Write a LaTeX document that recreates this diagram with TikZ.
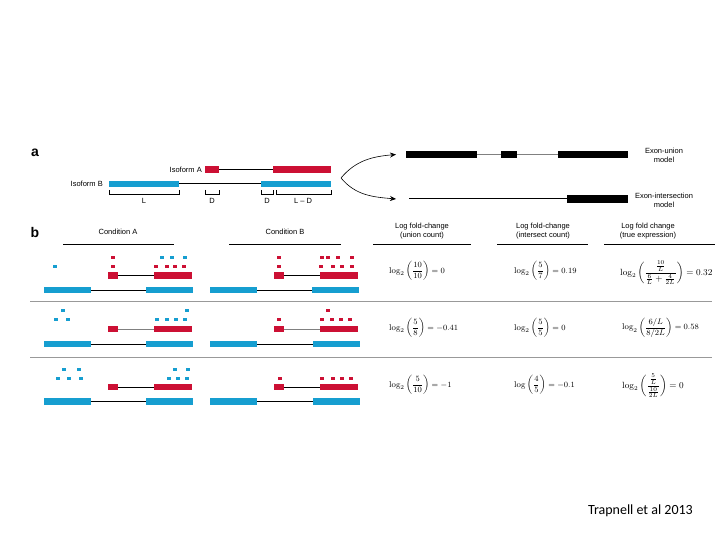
\documentclass[tikz,border=0pt]{standalone}
\usepackage{amsmath}
\usepackage{fontspec}
\setsansfont{Liberation Sans}
\newfontfamily\credfont{Carlito}
\usetikzlibrary{arrows.meta,positioning}
\definecolor{isored}{RGB}{204,16,52}
\definecolor{isoblue}{RGB}{22,158,208}

\begin{document}
\begin{tikzpicture}[
  x=1pt, y=-1pt,
  exon/.style={inner sep=0pt, outer sep=0pt, minimum height=6.5pt, anchor=west},
  redexon/.style={exon, fill=isored},
  blueexon/.style={exon, fill=isoblue},
  modelexon/.style={exon, fill=black, minimum height=7.5pt},
  intron/.style={line width=1pt},
  lbl/.style={font=\sffamily\fontsize{7.5}{9}\selectfont, inner sep=1pt, align=center},
  panel/.style={font=\sffamily\bfseries\fontsize{14}{14}\selectfont, inner sep=0pt},
  fml/.style={font=\fontsize{8.5}{10}\selectfont, anchor=west, inner sep=0pt},
  bracket/.style={line width=0.8pt},
  flow/.style={line width=0.6pt, -{Stealth[length=6pt,width=5pt]}}
]
\useasboundingbox (0,0) rectangle (720,540);

% panel a
\node[panel] (pa) at (35,153) {a};

\node[lbl, anchor=east] (isoA) at (203,169.5) {Isoform A};
\node[redexon, minimum width=14pt] (A1) at (205,169.5) {};
\node[redexon, minimum width=58pt] (A2) at (273,169.5) {};
\draw[intron] (A1) -- (A2);

\node[lbl, anchor=east] (isoB) at (104,184) {Isoform B};
\node[blueexon, minimum width=70pt] (B1) at (109,184) {};
\node[blueexon, minimum width=70pt] (B2) at (261,184) {};
\draw[intron] (B1) -- (B2);

\draw[bracket] (109,190) -- (109,194.5) -- (179,194.5) -- (179,190);
\draw[bracket] (205,190) -- (205,194.5) -- (219,194.5) -- (219,190);
\draw[bracket] (261,190) -- (261,194.5) -- (273,194.5) -- (273,190);
\draw[bracket] (276,190) -- (276,194.5) -- (331,194.5) -- (331,190);
\node[lbl] (lenL) at (144,201) {L};
\node[lbl] (lenD1) at (212,201) {D};
\node[lbl] (lenD2) at (267,201) {D};
\node[lbl] (lenLD) at (303,201) {L -- D};

\coordinate (split) at (341,178);

\node[modelexon, minimum width=71pt] (U1) at (406,154.5) {};
\node[modelexon, minimum width=16pt] (U2) at (501,154.5) {};
\node[modelexon, minimum width=70pt] (U3) at (558,154.5) {};
\draw[gray, line width=0.6pt] (U1) -- (U2);
\draw[gray, line width=0.6pt] (U2) -- (U3);

\coordinate (I0) at (409,199);
\node[modelexon, minimum width=61pt] (I1) at (567,199) {};
\draw[intron] (I0) -- (I1);

\draw[flow] (split) to[out=50,in=185] ([xshift=-10pt]U1.west);
\draw[flow] (split) to[out=-50,in=175] ([xshift=-10pt]U1.west |- I1.west);

\node[lbl] (unionlbl) at (664,155) {Exon-union\\model};
\node[lbl] (interlbl) at (664,200) {Exon-intersection\\model};

% panel b
\node[panel] (pb) at (35,232) {b};

\node[lbl] (condA) at (118,232) {Condition A};
\node[lbl] (condB) at (285,232) {Condition B};
\draw[line width=0.8pt] (63,244) -- (174,244);
\draw[line width=0.8pt] (229,244) -- (341,244);

\node[lbl] (hU) at (422,231) {Log fold-change\\(union count)};
\node[lbl] (hI) at (543,231) {Log fold-change\\(intersect count)};
\node[lbl] (hT) at (648,231) {Log fold change\\(true expression)};
\draw[line width=0.8pt] (373,244) -- (471,244);
\draw[line width=0.8pt] (497,244) -- (588,244);
\draw[line width=0.8pt] (604,244) -- (715,244);

\draw[gray!80, line width=1pt] (30,301) -- (712,301);
\draw[gray!80, line width=1pt] (30,357) -- (712,357);

% row 1
\node[blueexon, minimum width=47pt] (b1a1) at (44,290) {};
\node[blueexon, minimum width=47pt] (b1a2) at (146,290) {};
\node[redexon, minimum width=10pt] (r1a1) at (108,275.5) {};
\node[redexon, minimum width=38pt] (r1a2) at (154,275.5) {};
\draw[intron] (b1a1) -- (b1a2);
\draw[intron] (r1a1) -- (r1a2);
\node[blueexon, minimum width=47pt] (b1b1) at (210,290) {};
\node[blueexon, minimum width=47pt] (b1b2) at (312,290) {};
\node[redexon, minimum width=10pt] (r1b1) at (274,275.5) {};
\node[redexon, minimum width=38pt] (r1b2) at (320,275.5) {};
\draw[intron] (b1b1) -- (b1b2);
\draw[intron] (r1b1) -- (r1b2);

\foreach \x/\y in {55/266, 162/257, 172/257, 185/257}
  \fill[isoblue] (\x-2,\y-1.5) rectangle ++(4,3);
\foreach \x/\y in {113/257, 113/266, 156/266, 167/266, 175/266, 184/266,
                   279/257, 279/266, 322/257, 328/257, 338/257, 352/257,
                   321/266, 333/266, 342/266, 352/266}
  \fill[isored] (\x-2,\y-1.5) rectangle ++(4,3);

\node[fml] (u1) at (389,271) {$\displaystyle\log_2\left(\frac{10}{10}\right)=0$};
\node[fml] (i1) at (514,271) {$\displaystyle\log_2\left(\frac{5}{7}\right)=0.19$};
\node[fml, font=\fontsize{9}{10}\selectfont] (t1) at (620,273) {$\displaystyle\log_2\left(\frac{\frac{10}{L}}{\frac{6}{L}+\frac{4}{2L}}\right)=0.32$};

% row 2
\node[blueexon, minimum width=47pt] (b2a1) at (44,344) {};
\node[blueexon, minimum width=47pt] (b2a2) at (146,344) {};
\node[redexon, minimum width=10pt] (r2a1) at (108,329) {};
\node[redexon, minimum width=38pt] (r2a2) at (154,329) {};
\draw[intron] (b2a1) -- (b2a2);
\draw[intron, gray] (r2a1) -- (r2a2);
\node[blueexon, minimum width=47pt] (b2b1) at (210,344) {};
\node[blueexon, minimum width=47pt] (b2b2) at (313,344) {};
\node[redexon, minimum width=10pt] (r2b1) at (274,329) {};
\node[redexon, minimum width=38pt] (r2b2) at (320,329) {};
\draw[intron] (b2b1) -- (b2b2);
\draw[intron, gray] (r2b1) -- (r2b2);

\foreach \x/\y in {63/310, 56/319, 68/319, 157/319, 167/319, 176/319, 185/319, 187/310}
  \fill[isoblue] (\x-2,\y-1.5) rectangle ++(4,3);
\foreach \x/\y in {279/319, 328/310, 322/319, 332/319, 341/319, 350/319}
  \fill[isored] (\x-2,\y-1.5) rectangle ++(4,3);

\node[fml] (u2) at (389,328) {$\displaystyle\log_2\left(\frac{5}{8}\right)=-0.41$};
\node[fml] (i2) at (514,328) {$\displaystyle\log_2\left(\frac{5}{5}\right)=0$};
\node[fml] (t2) at (622,328) {$\displaystyle\log_2\left(\frac{6/L}{8/2L}\right)=0.58$};

% row 3
\node[blueexon, minimum width=47pt] (b3a1) at (44,401.5) {};
\node[blueexon, minimum width=47pt] (b3a2) at (146,401.5) {};
\node[redexon, minimum width=10pt] (r3a1) at (108,387) {};
\node[redexon, minimum width=38pt] (r3a2) at (154,387) {};
\draw[intron] (b3a1) -- (b3a2);
\draw[intron] (r3a1) -- (r3a2);
\node[blueexon, minimum width=47pt] (b3b1) at (210,401.5) {};
\node[blueexon, minimum width=47pt] (b3b2) at (313,401.5) {};
\node[redexon, minimum width=10pt] (r3b1) at (274,387) {};
\node[redexon, minimum width=38pt] (r3b2) at (320,387) {};
\draw[intron] (b3b1) -- (b3b2);
\draw[intron] (r3b1) -- (r3b2);

\foreach \x/\y in {64/369, 79/369, 175/369, 188/369,
                   58/378, 69/378, 81/378, 169/378, 178/378, 187/378}
  \fill[isoblue] (\x-2,\y-1.5) rectangle ++(4,3);
\foreach \x/\y in {280/378, 322/378, 333/378, 342/378, 351/378}
  \fill[isored] (\x-2,\y-1.5) rectangle ++(4,3);

\node[fml] (u3) at (389,385) {$\displaystyle\log_2\left(\frac{5}{10}\right)=-1$};
\node[fml] (i3) at (514,385) {$\displaystyle\log\left(\frac{4}{5}\right)=-0.1$};
\node[fml, font=\fontsize{9}{10}\selectfont] (t3) at (622,386) {$\displaystyle\log_2\left(\frac{\frac{5}{L}}{\frac{10}{2L}}\right)=0$};

\node[font=\credfont\fontsize{14}{16}\selectfont, anchor=east, inner sep=0pt] (cred) at (693,511) {Trapnell et al 2013};
\end{tikzpicture}
\end{document}
